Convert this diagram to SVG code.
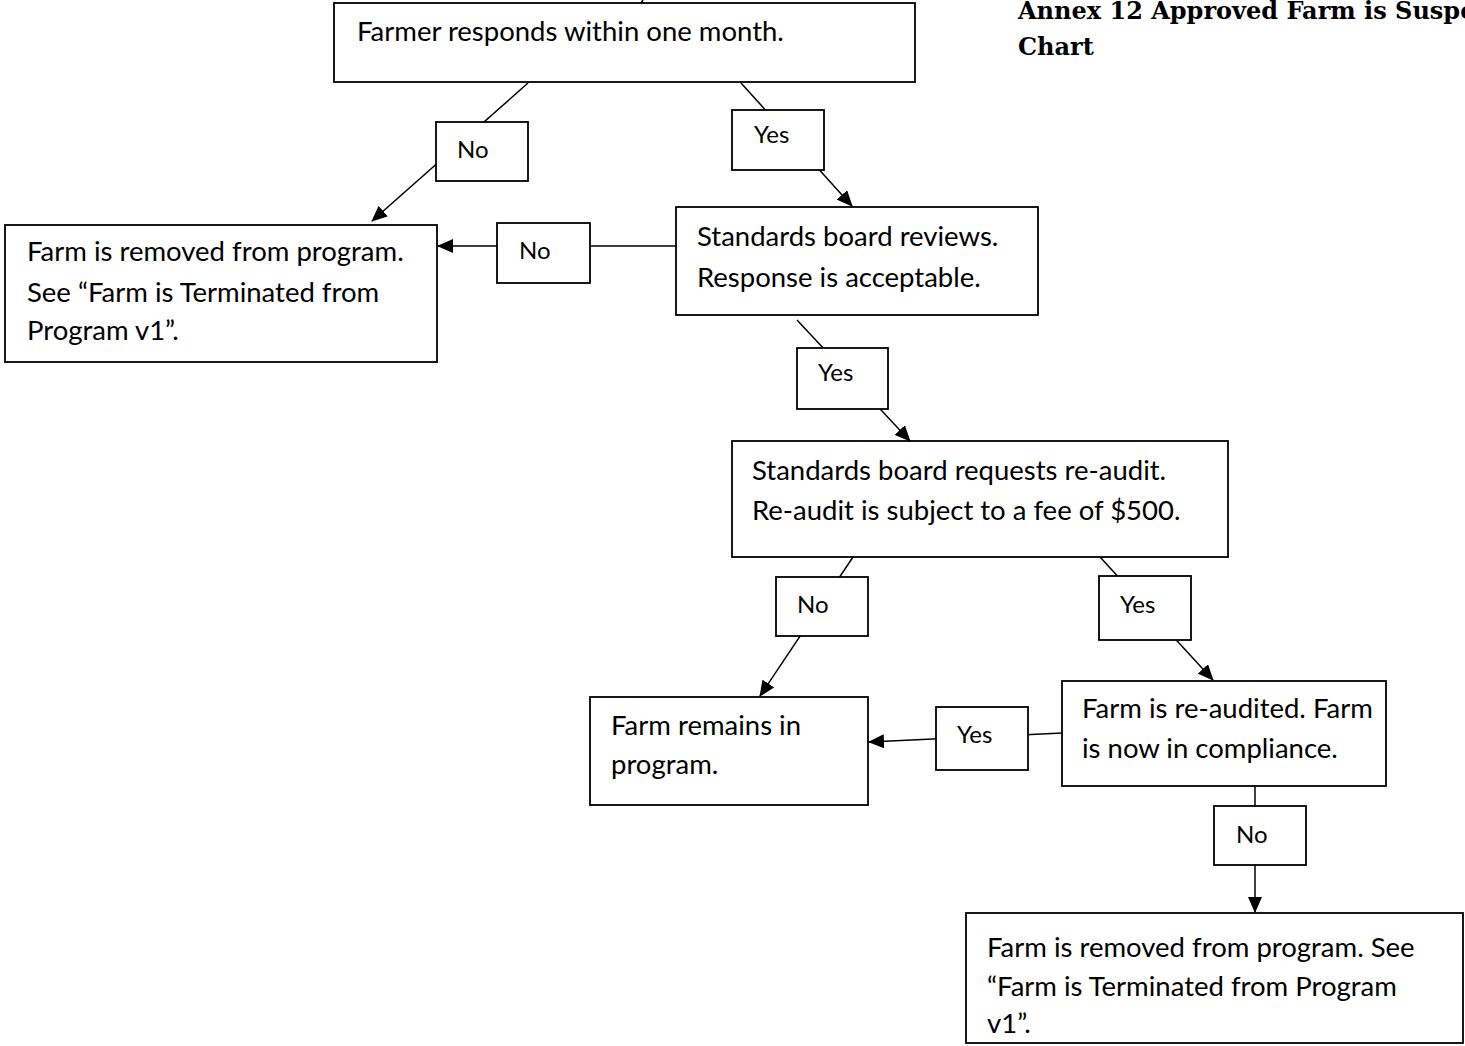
<svg xmlns="http://www.w3.org/2000/svg" width="1465" height="1046" viewBox="0 0 1465 1046">
<style>
.box{fill:#fff;stroke:#000;stroke-width:1.8}
.t{font-family:Lato,"Liberation Sans",sans-serif;font-size:27.5px;fill:#000}
.lb{font-family:Lato,"Liberation Sans",sans-serif;font-size:24px;fill:#000}
.title{font-family:"DejaVu Serif","Liberation Serif",serif;font-weight:bold;font-size:24px;fill:#000}
.c{stroke:#000;stroke-width:1.5;fill:none}
</style>
<defs>
<marker id="ah" markerUnits="userSpaceOnUse" markerWidth="16" markerHeight="14" refX="15" refY="7" orient="auto">
<path d="M0,0 L16,7 L0,14 z" fill="#000"/>
</marker>
</defs>
<rect width="1465" height="1046" fill="#fff"/>
<g id="title">
<text class="title" x="1018" y="19">Annex 12 Approved Farm is Suspended Flow</text>
<text class="title" x="1018" y="55">Chart</text>
</g>
<g id="connectors">
<line class="c" x1="643" y1="0" x2="641" y2="3"/>
<line class="c" x1="528" y1="83" x2="372" y2="221" marker-end="url(#ah)"/>
<line class="c" x1="741" y1="83" x2="852" y2="206" marker-end="url(#ah)"/>
<line class="c" x1="676" y1="246" x2="590" y2="246"/>
<line class="c" x1="497" y1="246" x2="438" y2="246" marker-end="url(#ah)"/>
<line class="c" x1="797" y1="320" x2="910" y2="441" marker-end="url(#ah)"/>
<line class="c" x1="853" y1="557" x2="760" y2="696" marker-end="url(#ah)"/>
<line class="c" x1="1100" y1="557" x2="1213" y2="680" marker-end="url(#ah)"/>
<line class="c" x1="1062" y1="733" x2="869" y2="742" marker-end="url(#ah)"/>
<line class="c" x1="1255" y1="786" x2="1255" y2="912" marker-end="url(#ah)"/>
</g>
<g id="n-respond"><rect class="box" x="334" y="3" width="581" height="79"/><text class="t" x="357" y="41">Farmer responds within one month.</text></g>
<g id="l-no1"><rect class="box" x="436" y="122" width="92" height="59"/><text class="lb" x="457" y="158">No</text></g>
<g id="l-yes1"><rect class="box" x="732" y="110" width="92" height="60"/><text class="lb" x="754" y="143">Yes</text></g>
<g id="n-review"><rect class="box" x="676" y="207" width="362" height="108"/><text class="t" x="697" y="246">Standards board reviews.</text><text class="t" x="697" y="287">Response is acceptable.</text></g>
<g id="l-no2"><rect class="box" x="497" y="223" width="93" height="60"/><text class="lb" x="519" y="259">No</text></g>
<g id="n-removed1"><rect class="box" x="5" y="225" width="432" height="137"/><text class="t" x="27" y="261">Farm is removed from program.</text><text class="t" x="27" y="302">See “Farm is Terminated from</text><text class="t" x="27" y="340">Program v1”.</text></g>
<g id="l-yes2"><rect class="box" x="797" y="348" width="91" height="61"/><text class="lb" x="818" y="381">Yes</text></g>
<g id="n-reaudit"><rect class="box" x="732" y="441" width="496" height="116"/><text class="t" x="752" y="480">Standards board requests re-audit.</text><text class="t" x="752" y="520">Re-audit is subject to a fee of $500.</text></g>
<g id="l-no3"><rect class="box" x="776" y="577" width="92" height="59"/><text class="lb" x="797" y="613">No</text></g>
<g id="l-yes3"><rect class="box" x="1099" y="576" width="92" height="64"/><text class="lb" x="1120" y="613">Yes</text></g>
<g id="n-remains"><rect class="box" x="590" y="697" width="278" height="108"/><text class="t" x="611" y="735">Farm remains in</text><text class="t" x="611" y="774">program.</text></g>
<g id="n-compliance"><rect class="box" x="1062" y="681" width="324" height="105"/><text class="t" x="1082" y="718">Farm is re-audited. Farm</text><text class="t" x="1082" y="758">is now in compliance.</text></g>
<g id="l-yes4"><rect class="box" x="936" y="707" width="92" height="63"/><text class="lb" x="957" y="743">Yes</text></g>
<g id="l-no4"><rect class="box" x="1214" y="806" width="92" height="59"/><text class="lb" x="1236" y="843">No</text></g>
<g id="n-removed2"><rect class="box" x="966" y="913" width="497" height="130"/><text class="t" x="987" y="957">Farm is removed from program. See</text><text class="t" x="987" y="996">“Farm is Terminated from Program</text><text class="t" x="987" y="1033">v1”.</text></g>
</svg>
